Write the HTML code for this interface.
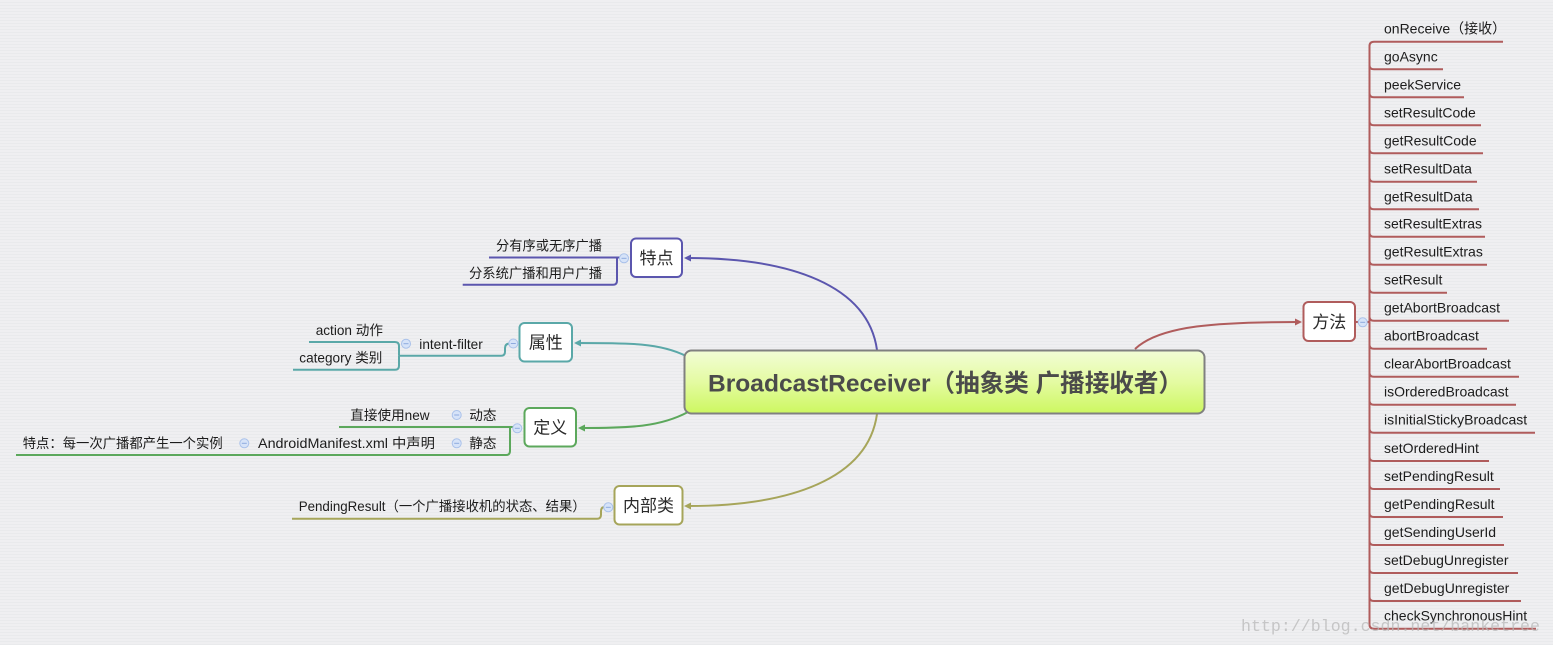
<!DOCTYPE html>
<html><head><meta charset="utf-8">
<style>
html,body{margin:0;padding:0;}
body{width:1553px;height:645px;overflow:hidden;background:repeating-linear-gradient(180deg,#efeff1 0px,#efeff1 2px,#e9eaec 2px,#e9eaec 3px);}
svg{display:block;}
text{font-family:"Liberation Sans","Noto Sans CJK SC",sans-serif;}
.t{font-size:13.6px;fill:#1c1c1c;}
.m{font-size:14px;fill:#1c1c1c;}
.n{font-size:17px;fill:#2a2a2a;}
.c circle{fill:#d6e3f8;stroke:#a9c1ea;stroke-width:1;}
.c line{stroke:#8eaade;stroke-width:1;}
</style></head>
<body>
<svg width="1553" height="645" viewBox="0 0 1553 645" xmlns="http://www.w3.org/2000/svg">
<defs>
<linearGradient id="g" x1="0" y1="0" x2="0" y2="1">
<stop offset="0" stop-color="#f2fcd6"/>
<stop offset="0.5" stop-color="#e4fba2"/>
<stop offset="1" stop-color="#cdf760"/>
</linearGradient>
</defs>

<!-- main connectors -->
<g fill="none" stroke-width="2">
<path d="M877,350 C868,285 790,258 688,258" stroke="#5b56ae"/>
<path d="M686,356 C660,343 630,343 578,343" stroke="#5aa8a8"/>
<path d="M688,412 C660,427 630,428 582,428" stroke="#5ca85c"/>
<path d="M877,414 C868,479 790,506 688,506" stroke="#a6a55a"/>
<path d="M1135,349 C1160,325 1220,322 1298,322" stroke="#b05c5c"/>
</g>
<!-- arrowheads -->
<polygon points="684,258 691,254.5 691,261.5" fill="#5b56ae"/>
<polygon points="574,343 581,339.5 581,346.5" fill="#5aa8a8"/>
<polygon points="578,428 585,424.5 585,431.5" fill="#5ca85c"/>
<polygon points="684,506 691,502.5 691,509.5" fill="#a6a55a"/>
<polygon points="1302,322 1295,318.5 1295,325.5" fill="#b05c5c"/>

<!-- left branch lines -->
<g fill="none" stroke-width="2">
<path d="M620,257.5 H489" stroke="#5b56ae"/>
<path d="M617,258 V280.7 Q617,284.7 613,284.7 H462.7" stroke="#5b56ae"/>

<path d="M510,343.5 Q505,343.5 505,348 V351.7 Q505,355.7 501,355.7 H399" stroke="#5aa8a8"/>
<path d="M399,355.7 V346 Q399,342 395,342 H309" stroke="#5aa8a8"/>
<path d="M399,355.7 V365.7 Q399,369.7 395,369.7 H293" stroke="#5aa8a8"/>

<path d="M514,427 H339" stroke="#5ca85c"/>
<path d="M510,427 V451 Q510,455 506,455 H16" stroke="#5ca85c"/>

<path d="M604,507.3 Q601,507.3 601,511.5 V514.7 Q601,518.7 597,518.7 H292" stroke="#a6a55a"/>
</g>

<!-- right method lines -->
<g fill="none" stroke="#b05c5c" stroke-width="2">
<path d="M1355,322 H1369.5"/>
<path d="M1503,41.7 H1374 Q1369.5,41.7 1369.5,46 V624.5 Q1369.5,628.7 1374,628.7 H1536"/>
<path d="M1369.5,65.3 Q1369.5,69.3 1374,69.3 H1443"/>
<path d="M1369.5,93.3 Q1369.5,97.3 1374,97.3 H1464"/>
<path d="M1369.5,121.3 Q1369.5,125.3 1374,125.3 H1481"/>
<path d="M1369.5,149.3 Q1369.5,153.3 1374,153.3 H1483"/>
<path d="M1369.5,177.7 Q1369.5,181.7 1374,181.7 H1477"/>
<path d="M1369.5,205.3 Q1369.5,209.3 1374,209.3 H1479"/>
<path d="M1369.5,232.7 Q1369.5,236.7 1374,236.7 H1485"/>
<path d="M1369.5,260.7 Q1369.5,264.7 1374,264.7 H1487"/>
<path d="M1369.5,288.7 Q1369.5,292.7 1374,292.7 H1447"/>
<path d="M1369.5,316.7 Q1369.5,320.7 1374,320.7 H1509"/>
<path d="M1369.5,344.7 Q1369.5,348.7 1374,348.7 H1487"/>
<path d="M1369.5,372.7 Q1369.5,376.7 1374,376.7 H1519"/>
<path d="M1369.5,400.7 Q1369.5,404.7 1374,404.7 H1516"/>
<path d="M1369.5,428.7 Q1369.5,432.7 1374,432.7 H1535"/>
<path d="M1369.5,457 Q1369.5,461 1374,461 H1489"/>
<path d="M1369.5,485 Q1369.5,489 1374,489 H1500"/>
<path d="M1369.5,513 Q1369.5,517 1374,517 H1503"/>
<path d="M1369.5,541 Q1369.5,545 1374,545 H1504"/>
<path d="M1369.5,569 Q1369.5,573 1374,573 H1518"/>
<path d="M1369.5,597 Q1369.5,601 1374,601 H1521"/>
</g>

<!-- nodes -->
<g stroke-width="2" fill="#ffffff">
<rect x="631" y="238.5" width="51" height="38.5" rx="5" stroke="#5b56ae"/>
<rect x="519.5" y="323" width="52.5" height="38.5" rx="5" stroke="#5aa8a8"/>
<rect x="524.5" y="408" width="51.5" height="38.5" rx="5" stroke="#5ca85c"/>
<rect x="614.5" y="486" width="68" height="38.5" rx="5" stroke="#a6a55a"/>
<rect x="1303.5" y="302" width="51.5" height="39" rx="5" stroke="#b05c5c"/>
</g>
<rect x="684.5" y="350.5" width="520" height="63" rx="7" fill="url(#g)" stroke="#808080" stroke-width="2"/>

<g class="n" text-anchor="middle">
<text x="656.5" y="264">特点</text>
<text x="545.8" y="348.5">属性</text>
<text x="550.3" y="433.5">定义</text>
<text x="648.5" y="511.5">内部类</text>
<text x="1329.3" y="327.8">方法</text>
</g>

<text x="708" y="391.5" font-size="24.5" font-weight="bold" fill="#4b4b4b" textLength="475" lengthAdjust="spacingAndGlyphs">BroadcastReceiver（抽象类 广播接收者）</text>

<!-- left labels -->
<g class="t">
<text x="496" y="250.5" textLength="106" lengthAdjust="spacingAndGlyphs">分有序或无序广播</text>
<text x="469" y="278" textLength="133" lengthAdjust="spacingAndGlyphs">分系统广播和用户广播</text>
<text x="315.7" y="335">action 动作</text>
<text x="299.3" y="362.5">category 类别</text>
<text x="419.3" y="349">intent-filter</text>
<text x="350.3" y="420">直接使用new</text>
<text x="469.3" y="420">动态</text>
<text x="258" y="448" textLength="177" lengthAdjust="spacingAndGlyphs">AndroidManifest.xml 中声明</text>
<text x="469.3" y="448">静态</text>
<text x="22.7" y="448" textLength="200" lengthAdjust="spacingAndGlyphs">特点：每一次广播都产生一个实例</text>
<text x="298.7" y="511" textLength="287" lengthAdjust="spacingAndGlyphs">PendingResult（一个广播接收机的状态、结果）</text>
</g>

<!-- method labels -->
<g class="m">
<text x="1384" y="33.5">onReceive（接收）</text>
<text x="1384" y="61.3">goAsync</text>
<text x="1384" y="89.3">peekService</text>
<text x="1384" y="117.3">setResultCode</text>
<text x="1384" y="145.3">getResultCode</text>
<text x="1384" y="173.7">setResultData</text>
<text x="1384" y="201.3">getResultData</text>
<text x="1384" y="228.7">setResultExtras</text>
<text x="1384" y="256.7">getResultExtras</text>
<text x="1384" y="284.7">setResult</text>
<text x="1384" y="312.7">getAbortBroadcast</text>
<text x="1384" y="340.7">abortBroadcast</text>
<text x="1384" y="368.7">clearAbortBroadcast</text>
<text x="1384" y="396.7">isOrderedBroadcast</text>
<text x="1384" y="424.7">isInitialStickyBroadcast</text>
<text x="1384" y="453">setOrderedHint</text>
<text x="1384" y="481">setPendingResult</text>
<text x="1384" y="509">getPendingResult</text>
<text x="1384" y="537">getSendingUserId</text>
<text x="1384" y="565">setDebugUnregister</text>
<text x="1384" y="593">getDebugUnregister</text>
<text x="1384" y="620.7">checkSynchronousHint</text>
</g>

<!-- collapse markers -->
<g class="c">
<g><circle cx="624" cy="258.3" r="4.5"/><line x1="621.5" y1="258.3" x2="626.5" y2="258.3"/></g>
<g><circle cx="513.3" cy="343.5" r="4.5"/><line x1="510.8" y1="343.5" x2="515.8" y2="343.5"/></g>
<g><circle cx="406" cy="343.7" r="4.5"/><line x1="403.5" y1="343.7" x2="408.5" y2="343.7"/></g>
<g><circle cx="517.3" cy="428.3" r="4.5"/><line x1="514.8" y1="428.3" x2="519.8" y2="428.3"/></g>
<g><circle cx="456.7" cy="415" r="4.5"/><line x1="454.2" y1="415" x2="459.2" y2="415"/></g>
<g><circle cx="456.7" cy="443.3" r="4.5"/><line x1="454.2" y1="443.3" x2="459.2" y2="443.3"/></g>
<g><circle cx="244.3" cy="443.3" r="4.5"/><line x1="241.8" y1="443.3" x2="246.8" y2="443.3"/></g>
<g><circle cx="608.3" cy="507.3" r="4.5"/><line x1="605.8" y1="507.3" x2="610.8" y2="507.3"/></g>
<g><circle cx="1362.7" cy="322.3" r="4.5"/><line x1="1360.2" y1="322.3" x2="1365.2" y2="322.3"/></g>
</g>

<text x="1241" y="631" font-size="16.6" fill="#b8b8b8" fill-opacity="0.75" textLength="299" lengthAdjust="spacingAndGlyphs" style="font-family:'Liberation Mono',monospace">http://blog.csdn.net/banketree</text>
</svg>
</body></html>
